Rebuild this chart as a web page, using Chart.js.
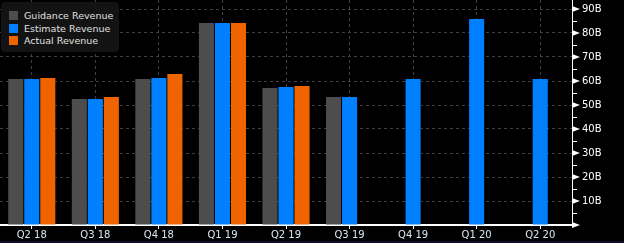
<!DOCTYPE html>
<html>
<head>
    <title>Revenue Guidance vs Estimate vs Actual</title>
    <script src="https://cdn.jsdelivr.net/npm/chart.js@4.4.0/dist/chart.umd.min.js"></script>
    <style>
        body {
            margin: 0;
            background: #000;
            font-family: "DejaVu Sans", sans-serif;
        }
        #wrap {
            position: relative;
            width: 624px;
            height: 243px;
        }
        #legend {
            position: absolute;
            left: 1px;
            top: 2px;
            width: 118px;
            height: 50px;
            background: #131313;
            border-radius: 4px;
            box-sizing: border-box;
            padding: 7px 0 0 8px;
        }
        .legend-item {
            display: flex;
            align-items: center;
            height: 12.7px;
            color: #e0e0e0;
            font-size: 9.5px;
        }
        .legend-box {
            width: 9px;
            height: 9px;
            margin-right: 6px;
        }
    </style>
</head>
<body>
    <div id="wrap">
        <canvas id="revenue-chart" width="624" height="243"></canvas>
        <div id="legend"></div>
    </div>

    <script>
        const categories = ['Q2 18', 'Q3 18', 'Q4 18', 'Q1 19', 'Q2 19', 'Q3 19', 'Q4 19', 'Q1 20', 'Q2 20'];
        const guidanceRevenue = [60.8, 52.5, 60.8, 84.2, 57.1, 53.3, null, null, null];
        const estimateRevenue = [60.8, 52.5, 61.3, 84.2, 57.5, 53.3, 60.8, 85.8, 60.8];
        const actualRevenue = [61.3, 53.3, 62.9, 84.2, 57.9, null, null, null, null];
        const yTicks = [0, 10, 20, 30, 40, 50, 60, 70, 80, 90];

        const seriesColors = ['#4d4d4d', '#0080ff', '#f06400'];
        const seriesLabels = ['Guidance Revenue', 'Estimate Revenue', 'Actual Revenue'];

        // right axis markers: triangles at major ticks, short lines at the halves
        const axisMarks = {
            id: 'axisMarks',
            afterDraw(chart) {
                const ctx = chart.ctx;
                const y = chart.scales.y;
                const x0 = chart.chartArea.right;
                ctx.save();
                ctx.fillStyle = '#fff';
                ctx.strokeStyle = '#fff';
                ctx.lineWidth = 1;
                yTicks.forEach(v => {
                    const py = y.getPixelForValue(v);
                    ctx.beginPath();
                    ctx.moveTo(x0, py - 3);
                    ctx.lineTo(x0 + 8, py);
                    ctx.lineTo(x0, py + 3);
                    ctx.closePath();
                    ctx.fill();
                    if (v < 90) {
                        const pm = Math.round(y.getPixelForValue(v + 5)) + 0.5;
                        ctx.beginPath();
                        ctx.moveTo(x0, pm);
                        ctx.lineTo(x0 + 5, pm);
                        ctx.stroke();
                    }
                });
                // dark strip along the bottom edge
                ctx.fillStyle = '#0d0d2a';
                ctx.fillRect(0, 241, chart.width, 2);
                ctx.restore();
            }
        };

        const ctx = document.getElementById('revenue-chart').getContext('2d');
        const chart = new Chart(ctx, {
            type: 'bar',
            data: {
                labels: categories,
                datasets: [
                    { label: seriesLabels[0], data: guidanceRevenue, backgroundColor: seriesColors[0] },
                    { label: seriesLabels[1], data: estimateRevenue, backgroundColor: seriesColors[1] },
                    { label: seriesLabels[2], data: actualRevenue, backgroundColor: seriesColors[2] }
                ]
            },
            options: {
                responsive: false,
                animation: false,
                categoryPercentage: 0.756,
                barPercentage: 0.94,
                layout: { padding: 0, autoPadding: false },
                plugins: {
                    legend: { display: false },
                    tooltip: { enabled: false }
                },
                scales: {
                    x: {
                        afterFit: s => { s.height = 18; },
                        border: { color: '#fff', width: 2, dash: [3, 3] },
                        grid: {
                            offset: false,
                            color: '#404040',
                            tickColor: '#fff',
                            tickBorderDash: [],
                            tickLength: 4
                        },
                        ticks: {
                            color: '#dde6f0',
                            font: { family: 'DejaVu Sans', size: 10 },
                            padding: 0,
                            maxRotation: 0
                        }
                    },
                    y: {
                        position: 'right',
                        min: 0,
                        max: 93.75,
                        afterFit: s => {
                            s.width = 52;
                            s.paddingTop = 0;
                            s.paddingBottom = 0;
                        },
                        afterBuildTicks: s => {
                            s.ticks = yTicks.map(v => ({ value: v }));
                        },
                        border: { color: '#fff', width: 1, dash: [3, 3] },
                        grid: {
                            color: '#404040',
                            tickColor: 'rgba(0,0,0,0)',
                            tickLength: 10
                        },
                        ticks: {
                            color: '#fff',
                            font: { family: 'DejaVu Sans', size: 10 },
                            padding: 0,
                            callback: v => v === 0 ? '' : v + 'B'
                        }
                    }
                }
            },
            plugins: [axisMarks]
        });

        // legend box drawn over the plot, top left
        const legend = document.getElementById('legend');
        seriesLabels.forEach((label, i) => {
            const item = document.createElement('div');
            item.className = 'legend-item';
            item.innerHTML = '<span class="legend-box" style="background:' + seriesColors[i] + '"></span>' + label;
            legend.appendChild(item);
        });
    </script>
</body>
</html>
